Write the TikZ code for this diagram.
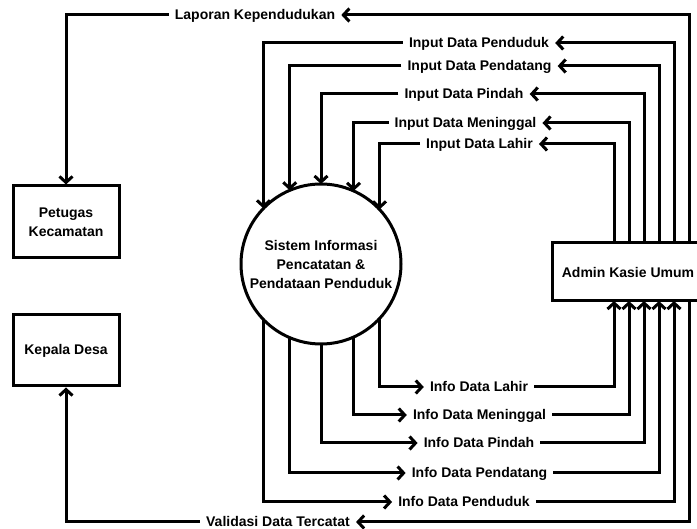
\documentclass[tikz,border=0pt]{standalone}
\usepackage{fontspec}
\setmainfont{Liberation Sans}
\usetikzlibrary{arrows.meta}
\begin{document}
\begin{tikzpicture}[x=1pt,y=-1pt,
  every node/.style={font=\bfseries\fontsize{14}{19}\selectfont},
  lbl/.style={inner xsep=6pt, inner ysep=0pt, text height=10pt, text depth=0pt},
  ent/.style={draw, line width=3pt, align=center, inner sep=0pt},
  flow/.style={line width=3pt, -{Straight Barb[length=6pt,width=13pt]}},
]
\useasboundingbox (0,0) rectangle (697,529);

% entities
\node[ent, minimum width=106pt, minimum height=72pt] (pk) at (66,222) {Petugas\\Kecamatan};
\node[ent, minimum width=106pt, minimum height=71pt] (kd) at (66,350.5) {Kepala Desa};
\node[ent, minimum width=152pt, minimum height=58pt] (adm) at (628,272) {Admin Kasie Umum};
\node[draw, circle, line width=3pt, minimum size=160pt, inner sep=0pt, outer sep=0pt, align=center] (sys) at (321,264)
  {Sistem Informasi\\Pencatatan \&\\Pendataan Penduduk};

% attachment points on the admin box
\coordinate (t1) at (614,243); \coordinate (b1) at (614,301);
\coordinate (t2) at (629,243); \coordinate (b2) at (629,301);
\coordinate (t3) at (644,243); \coordinate (b3) at (644,301);
\coordinate (t4) at (659,243); \coordinate (b4) at (659,301);
\coordinate (t5) at (674,243); \coordinate (b5) at (674,301);
\coordinate (t6) at (689,243); \coordinate (b6) at (689,301);

% labels
\node[lbl] (lap) at (255,15) {Laporan Kependudukan};
\node[lbl] (ipk) at (479,43) {Input Data Penduduk};
\node[lbl] (ipt) at (479.5,66) {Input Data Pendatang};
\node[lbl] (ipi) at (464,94) {Input Data Pindah};
\node[lbl] (ime) at (465.5,123) {Input Data Meninggal};
\node[lbl] (ila) at (479.5,144) {Input Data Lahir};
\node[lbl] (fla) at (479,387) {Info Data Lahir};
\node[lbl] (fme) at (479.5,415) {Info Data Meninggal};
\node[lbl] (fpi) at (479,443) {Info Data Pindah};
\node[lbl] (fpt) at (479.5,473) {Info Data Pendatang};
\node[lbl] (fpk) at (464,502) {Info Data Penduduk};
\node[lbl] (val) at (278,522) {Validasi Data Tercatat};

% Laporan
\draw[flow] (t6) |- (lap.east);
\draw[flow] (lap.west) -| (pk.north);
% Inputs
\draw[flow] (t5) |- (ipk.east);
\draw[flow] (ipk.west) -| (sys.136.5);
\draw[flow] (t4) |- (ipt.east);
\draw[flow] (ipt.west) -| (sys.113.6);
\draw[flow] (t3) |- (ipi.east);
\draw[flow] (ipi.west) -| (sys.90);
\draw[flow] (t2) |- (ime.east);
\draw[flow] (ime.west) -| (sys.66.4);
\draw[flow] (t1) |- (ila.east);
\draw[flow] (ila.west) -| (sys.43.5);
% Infos
\draw[flow] (sys.-43.5) |- (fla.west);
\draw[flow] (fla.east) -| (b1);
\draw[flow] (sys.-66.4) |- (fme.west);
\draw[flow] (fme.east) -| (b2);
\draw[flow] (sys.-90) |- (fpi.west);
\draw[flow] (fpi.east) -| (b3);
\draw[flow] (sys.-113.6) |- (fpt.west);
\draw[flow] (fpt.east) -| (b4);
\draw[flow] (sys.-136.5) |- (fpk.west);
\draw[flow] (fpk.east) -| (b5);
% Validasi
\draw[flow] (b6) |- (val.east);
\draw[flow] (val.west) -| (kd.south);
\end{tikzpicture}
\end{document}
